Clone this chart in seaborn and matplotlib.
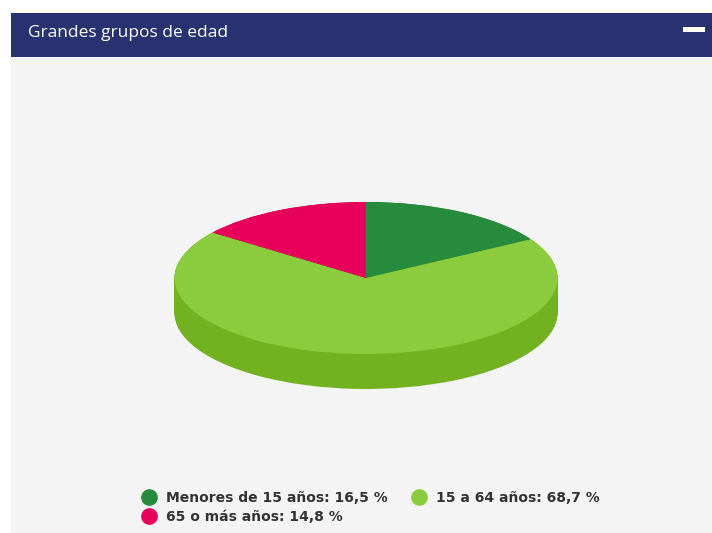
import numpy as np
import matplotlib
matplotlib.use("Agg")
import matplotlib.pyplot as plt
import seaborn as sns
from matplotlib.patches import Rectangle
from matplotlib.lines import Line2D

# datos del gráfico
grupos = ["Menores de 15 años", "15 a 64 años", "65 o más años"]
porcentajes = [16.5, 68.7, 14.8]
colores = ["#268c3c", "#8bcb3e", "#e6005a"]
colores_lado = ["#1c6e2e", "#72b221", "#b80048"]
titulo = "Grandes grupos de edad"

sns.set_style("white")
plt.rcParams["font.family"] = ["DejaVu Sans"]

W, H = 712, 533
fig = plt.figure(figsize=(W / 100, H / 100), dpi=100)
fig.patch.set_facecolor("white")

# panel gris y cabecera
fig.patches.append(Rectangle((11 / W, 0), 1 - 11 / W, 1 - 57 / H, transform=fig.transFigure,
                             facecolor="#f4f4f4", edgecolor="none", zorder=0))
fig.patches.append(Rectangle((11 / W, 1 - 57 / H), 1 - 11 / W, 44 / H, transform=fig.transFigure,
                             facecolor="#283270", edgecolor="none", zorder=0))
fig.patches.append(Rectangle((683 / W, 1 - 32 / H), 22 / W, 5 / H, transform=fig.transFigure,
                             facecolor="white", edgecolor="none", zorder=1))
fig.text(28 / W, 1 - 33 / H, titulo, color="white", fontsize=12.5, va="center", ha="left",
         family=["Open Sans", "DejaVu Sans"])

# tarta "3D": elipse aplastada con un lateral hecho de capas
rx, ry = 191.5, 76.0
cx, cy = 366, 278
xlim = (-1.2, 1.2)
ylim = (-1.8, 1.2)
ax_w = (xlim[1] - xlim[0]) * rx
ax_h = (ylim[1] - ylim[0]) * ry
left = cx + xlim[0] * rx
top = cy - ylim[1] * ry
ax = fig.add_axes([left / W, 1 - (top + ax_h) / H, ax_w / W, ax_h / H])
ax.set_zorder(3)

grosor = 35 / ry
for d in np.linspace(grosor, 0.0, 40):
    ax.pie(porcentajes, colors=colores_lado, startangle=90, counterclock=False,
           center=(0, -d), radius=1, wedgeprops=dict(linewidth=0, antialiased=True))
ax.pie(porcentajes, colors=colores, startangle=90, counterclock=False,
       center=(0, 0), radius=1, wedgeprops=dict(linewidth=0, antialiased=True))
ax.set_aspect("auto")
ax.set_xlim(*xlim)
ax.set_ylim(*ylim)
ax.axis("off")

# leyenda
etiquetas = [f"{g}: {str(p).replace('.', ',')} %" for g, p in zip(grupos, porcentajes)]
handles = [Line2D([], [], marker="o", linestyle="none", markersize=11,
                  markerfacecolor=c, markeredgecolor=c) for c in colores]
orden = [0, 2, 1]
leg = fig.legend([handles[i] for i in orden], [etiquetas[i] for i in orden],
                 ncol=2, loc="upper left", bbox_to_anchor=(142 / W, 1 - 491 / H),
                 frameon=False, handletextpad=0.75, columnspacing=1.7, labelspacing=0.35,
                 handlelength=1.0, borderpad=0, borderaxespad=0,
                 prop=dict(weight="bold", size=10), labelcolor="#333333")
leg.set_zorder(3)

fig.savefig("out.png", dpi=100)
